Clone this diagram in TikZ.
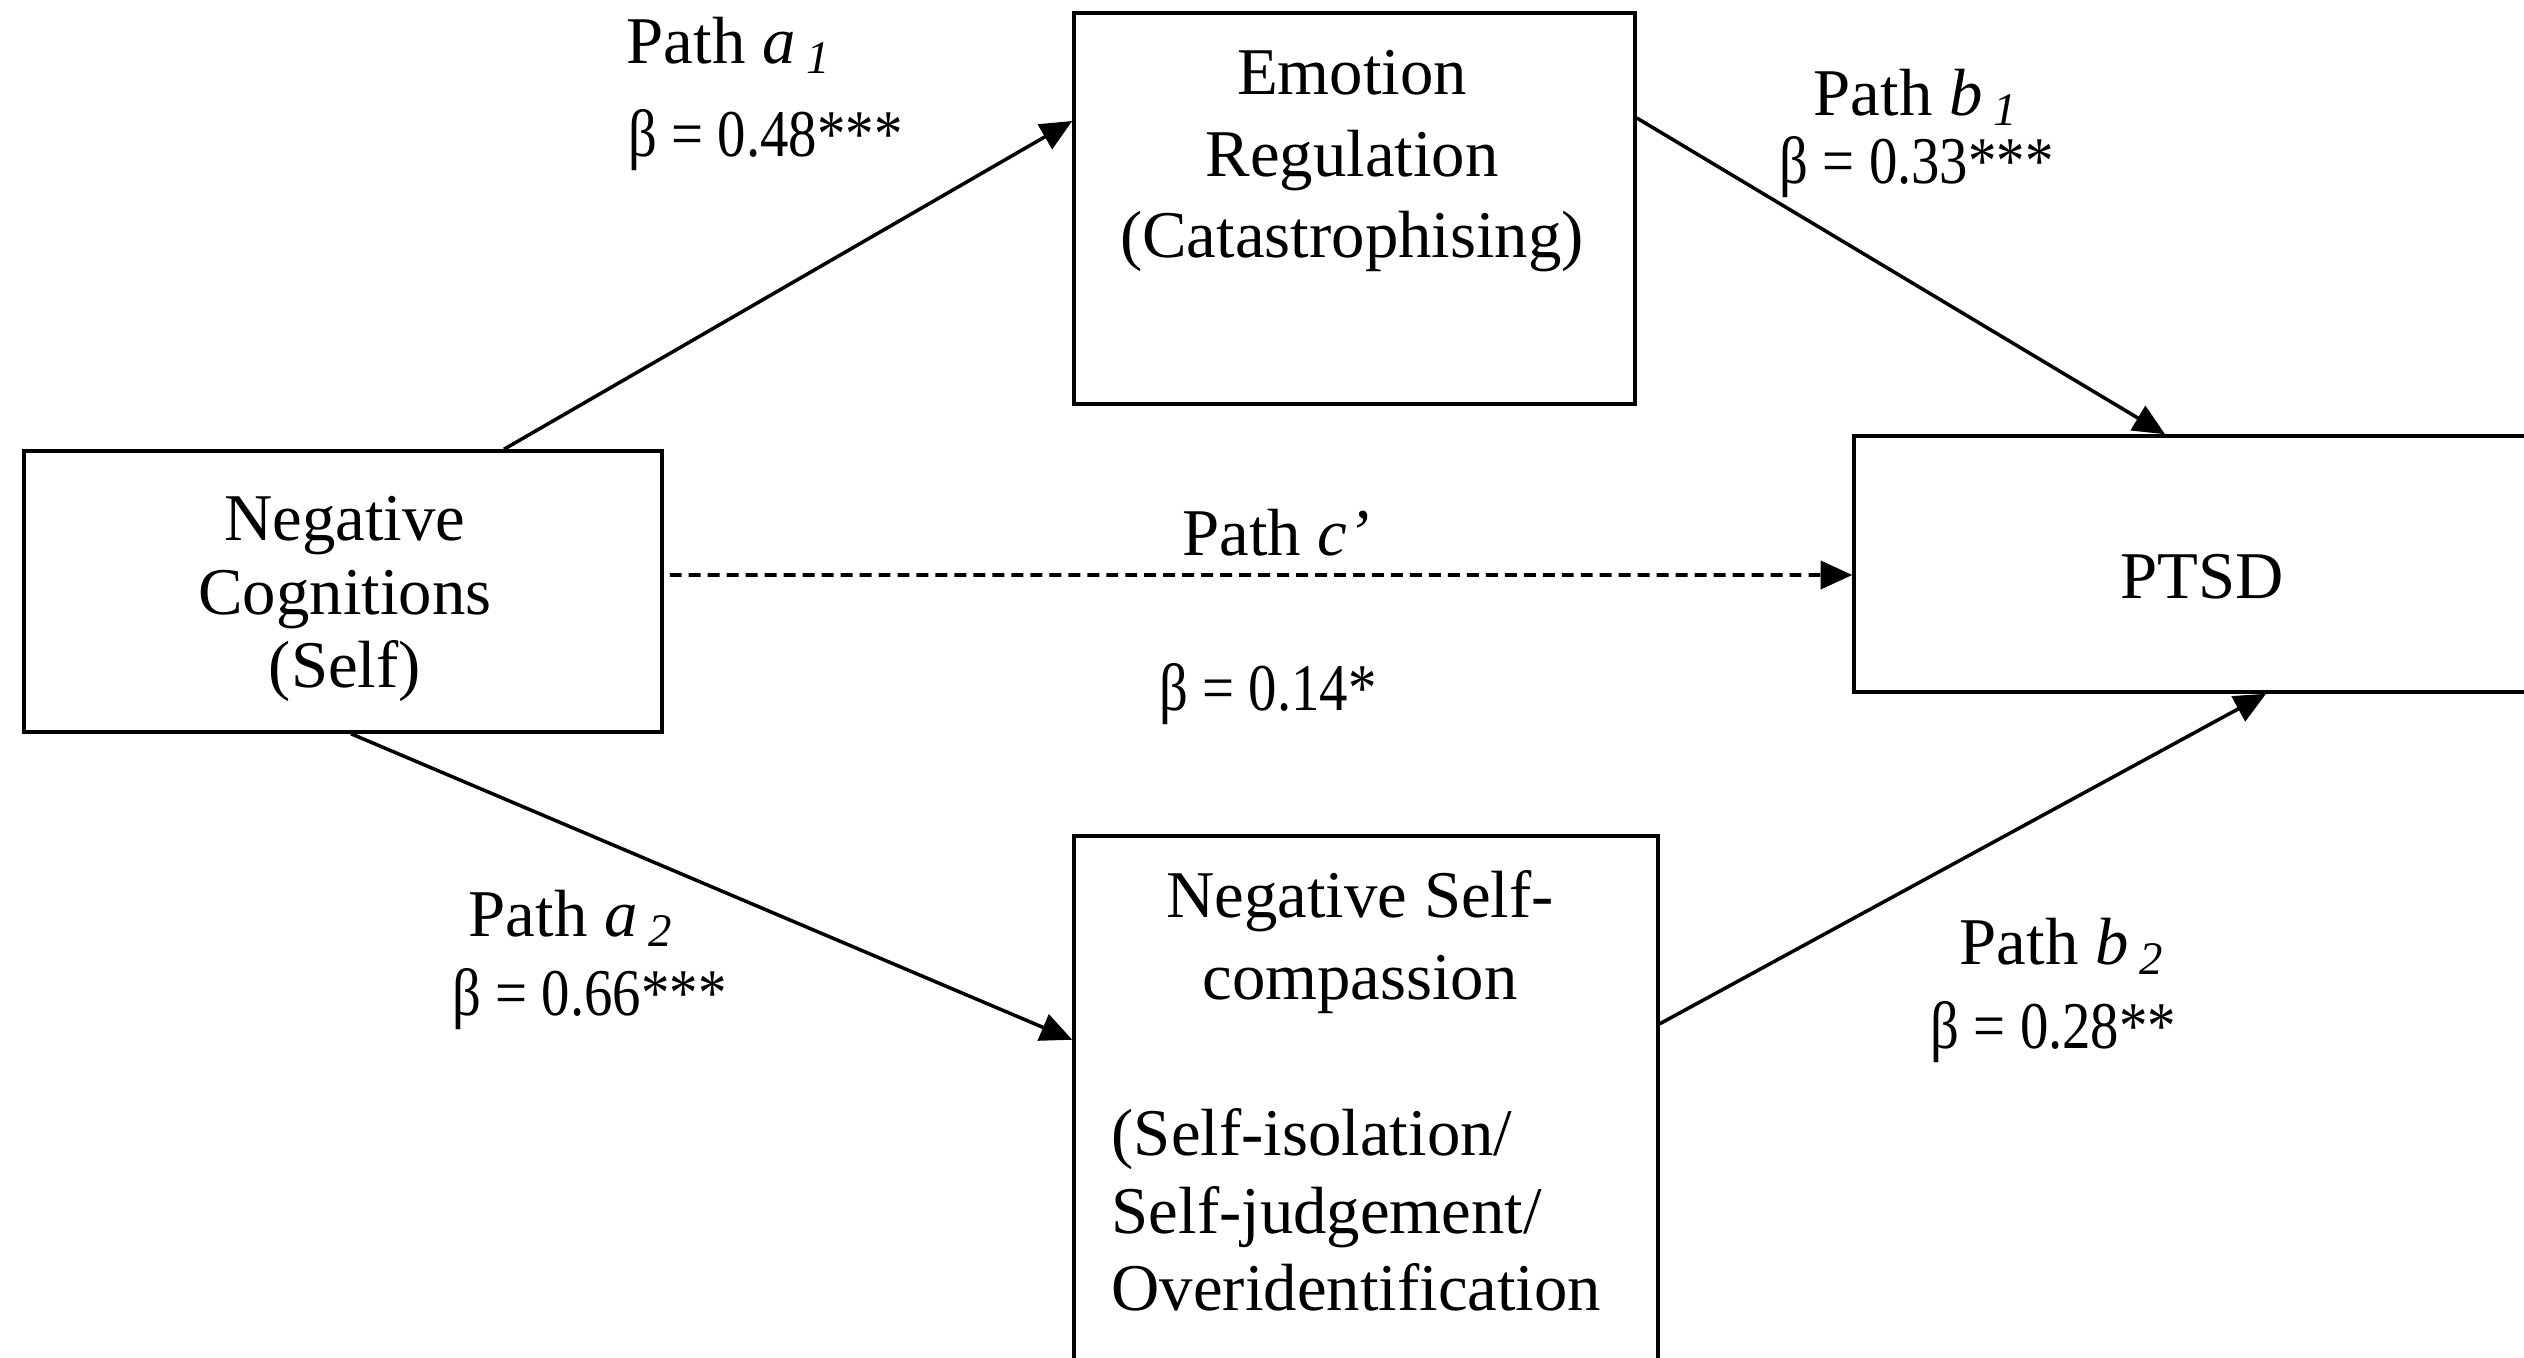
\documentclass[tikz,border=0pt]{standalone}
\usepackage{fontspec}
\setmainfont{Liberation Serif}
\usetikzlibrary{arrows.meta}

\newcommand{\coef}[1]{\scalebox{0.85}[1]{β = #1}}

\begin{document}
\begin{tikzpicture}[
    box/.style={draw, line width=1pt, fill=white},
    lbl/.style={font=\fontsize{19}{23.2}\selectfont, inner sep=0pt},
    arr/.style={line width=1pt, -{Triangle[length=9pt, width=8pt]}},
    font=\fontsize{19}{22.5}\selectfont
  ]
  \useasboundingbox (0,0) rectangle (25.24,-13.57);
  \clip (0,0) rectangle (25.24,-13.57);

  % Boxes
  \node[box, minimum width=6.38cm, minimum height=2.81cm] (nc) at (3.43,-5.915) {};
  \node[lbl, align=center] (nctxt) at (3.45,-5.99) {Negative\\[-2.2pt]Cognitions\\[-2.2pt](Self)};
  \node[box, minimum width=5.61cm, minimum height=3.91cm] (er) at (13.545,-2.085) {};
  \node[lbl, align=center, anchor=north] (ertxt) at (13.52,-0.50) {Emotion\\Regulation\\(Catastrophising)};
  \node[box, minimum width=6.96cm, minimum height=2.56cm, text height=0.68cm, text depth=0pt] (ptsd) at (22.02,-5.64) {PTSD};
  \node[box, minimum width=5.84cm, minimum height=6.0cm, anchor=north] (nsc) at (13.66,-8.34) {};
  \node[lbl, align=center, anchor=north] (nsctop) at (13.60,-8.70) {Negative Self-\\compassion};
  \node[lbl, align=left, anchor=north west] (nscsub) at (11.11,-11.08) {(Self-isolation/\\[-1.2pt]Self-judgement/\\[-1.2pt]Overidentification};

  % Edges
  \draw[arr] ([xshift=1.61cm]nc.north) -- ([yshift=0.875cm]er.west);
  \draw[arr] ([yshift=0.905cm]er.east) -- ([xshift=-0.37cm]ptsd.north);
  \draw[arr, dashed, dash pattern=on 3.4pt off 2pt] ([xshift=0.06cm, yshift=0.165cm]nc.east) -- ([yshift=-0.11cm]ptsd.west);
  \draw[arr] ([xshift=0.08cm]nc.south) -- ([yshift=0.96cm]nsc.west);
  \draw[arr] ([yshift=1.12cm]nsc.east) -- ([xshift=0.64cm]ptsd.south);

  % Labels
  \node[lbl, anchor=west] (pa1) at (6.26,-0.45) {Path \textit{a}\,\textsubscript{\textit{1}}};
  \node[lbl, anchor=west] (ba1) at (6.28,-1.40) {\coef{0.48***}};
  \node[lbl, anchor=west] (pb1) at (18.13,-0.97) {Path \textit{b}\,\textsubscript{\textit{1}}};
  \node[lbl, anchor=west] (bb1) at (17.79,-1.67) {\coef{0.33***}};
  \node[lbl] (pc) at (12.76,-5.33) {Path \textit{c’}};
  \node[lbl] (bc) at (12.68,-6.94) {\coef{0.14*}};
  \node[lbl, anchor=west] (pa2) at (4.68,-9.18) {Path \textit{a}\,\textsubscript{\textit{2}}};
  \node[lbl, anchor=west] (ba2) at (4.52,-9.99) {\coef{0.66***}};
  \node[lbl, anchor=west] (pb2) at (19.59,-9.46) {Path \textit{b}\,\textsubscript{\textit{2}}};
  \node[lbl, anchor=west] (bb2) at (19.30,-10.32) {\coef{0.28**}};
\end{tikzpicture}
\end{document}
